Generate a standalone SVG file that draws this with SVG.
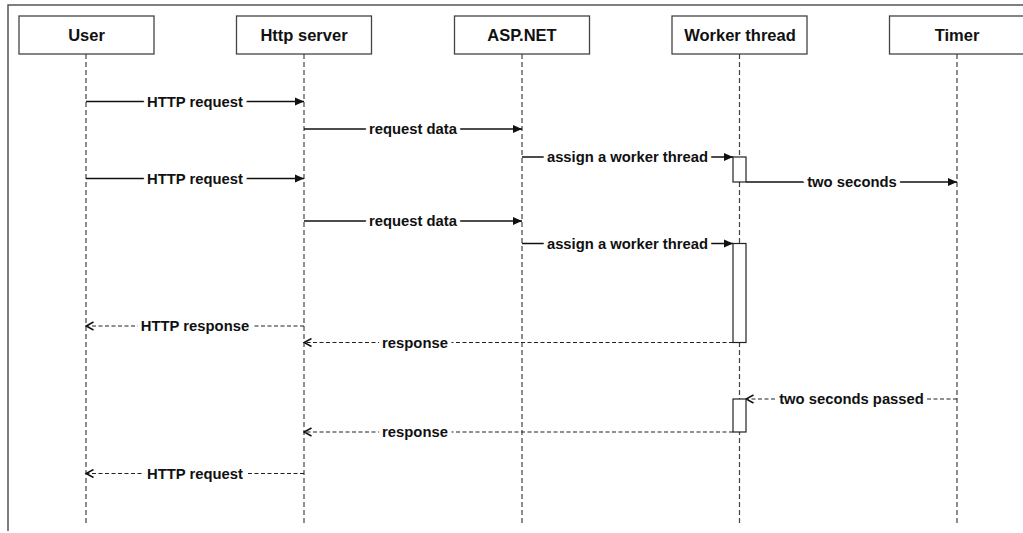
<svg xmlns="http://www.w3.org/2000/svg" width="1023" height="533" viewBox="0 0 1023 533">
<style>
.frame{fill:none;stroke:#555;stroke-width:1.5}
.hdr{fill:#fff;stroke:#444;stroke-width:1.3}
.htxt{font-family:"Liberation Sans",Arial,sans-serif;font-weight:bold;font-size:16.5px;fill:#111;text-anchor:middle}
.life{stroke:#444;stroke-width:1.2;stroke-dasharray:5,3;fill:none}
.act{fill:#fff;stroke:#222;stroke-width:1.2}
.msg{stroke:#111;stroke-width:1.3;fill:none}
.ret{stroke:#222;stroke-width:1.2;fill:none;stroke-dasharray:4,2.5}
.lbl{font-family:"Liberation Sans",Arial,sans-serif;font-weight:bold;font-size:14.8px;fill:#111;text-anchor:middle;stroke:#fff;stroke-width:8;paint-order:stroke;stroke-linejoin:round}
</style>
<defs>
<marker id="fill" markerWidth="10" markerHeight="9" refX="9" refY="4.5" orient="auto" markerUnits="userSpaceOnUse"><path d="M0,0.5 L9,4.5 L0,8.5 z" fill="#111"/></marker>
<marker id="open" markerWidth="10" markerHeight="10" refX="8.5" refY="5" orient="auto" markerUnits="userSpaceOnUse"><path d="M1,1 L8.5,5 L1,9" fill="none" stroke="#111" stroke-width="1.5"/></marker>
</defs>
<rect width="1023" height="533" fill="#fff"/>
<path class="frame" d="M8,531 L8,5 L1023,5"/>
<g id="lifelines">
<line class="life" x1="86" y1="54" x2="86" y2="525"/>
<line class="life" x1="304" y1="54" x2="304" y2="525"/>
<line class="life" x1="522" y1="54" x2="522" y2="525"/>
<line class="life" x1="739.5" y1="54" x2="739.5" y2="525"/>
<line class="life" x1="957" y1="54" x2="957" y2="525"/>
</g>
<g id="user"><rect class="hdr" x="19" y="16" width="135" height="38"/><text class="htxt" x="86.5" y="41">User</text></g>
<g id="http-server"><rect class="hdr" x="236.5" y="16" width="135" height="38"/><text class="htxt" x="304" y="41">Http server</text></g>
<g id="aspnet"><rect class="hdr" x="454.5" y="16" width="135" height="38"/><text class="htxt" x="522" y="41">ASP.NET</text></g>
<g id="worker-thread"><rect class="hdr" x="672" y="16" width="135" height="38"/><text class="htxt" x="740" y="41">Worker thread</text></g>
<g id="timer"><rect class="hdr" x="889.5" y="16" width="135" height="38"/><text class="htxt" x="957" y="41">Timer</text></g>
<g id="connectors">
<line class="msg" x1="86" y1="101.5" x2="304" y2="101.5" marker-end="url(#fill)"/>
<line class="msg" x1="304" y1="129" x2="522" y2="129" marker-end="url(#fill)"/>
<line class="msg" x1="522" y1="157" x2="733" y2="157" marker-end="url(#fill)"/>
<line class="msg" x1="86" y1="178.5" x2="304" y2="178.5" marker-end="url(#fill)"/>
<line class="msg" x1="746" y1="182" x2="957" y2="182" marker-end="url(#fill)"/>
<line class="msg" x1="304" y1="221" x2="522" y2="221" marker-end="url(#fill)"/>
<line class="msg" x1="522" y1="243.5" x2="733" y2="243.5" marker-end="url(#fill)"/>
<line class="ret" x1="304" y1="326" x2="86" y2="326" marker-end="url(#open)"/>
<line class="ret" x1="733" y1="342.5" x2="304" y2="342.5" marker-end="url(#open)"/>
<line class="ret" x1="957" y1="399" x2="746" y2="399" marker-end="url(#open)"/>
<line class="ret" x1="733" y1="432" x2="304" y2="432" marker-end="url(#open)"/>
<line class="ret" x1="304" y1="473.5" x2="86" y2="473.5" marker-end="url(#open)"/>
<text class="lbl" x="195" y="106.5">HTTP request</text>
<text class="lbl" x="413" y="134">request data</text>
<text class="lbl" x="627.5" y="162">assign a worker thread</text>
<text class="lbl" x="195" y="183.5">HTTP request</text>
<text class="lbl" x="852" y="187">two seconds</text>
<text class="lbl" x="413" y="226">request data</text>
<text class="lbl" x="627.5" y="248.5">assign a worker thread</text>
<text class="lbl" x="195" y="331">HTTP response</text>
<text class="lbl" x="415" y="347.5">response</text>
<text class="lbl" x="851.5" y="404">two seconds passed</text>
<text class="lbl" x="415" y="437">response</text>
<text class="lbl" x="195" y="478.5">HTTP request</text>
</g>
<g id="activations">
<rect class="act" x="733" y="157" width="13" height="25"/>
<rect class="act" x="733" y="243.5" width="13" height="99"/>
<rect class="act" x="733" y="399" width="13" height="33"/>
</g>
</svg>
